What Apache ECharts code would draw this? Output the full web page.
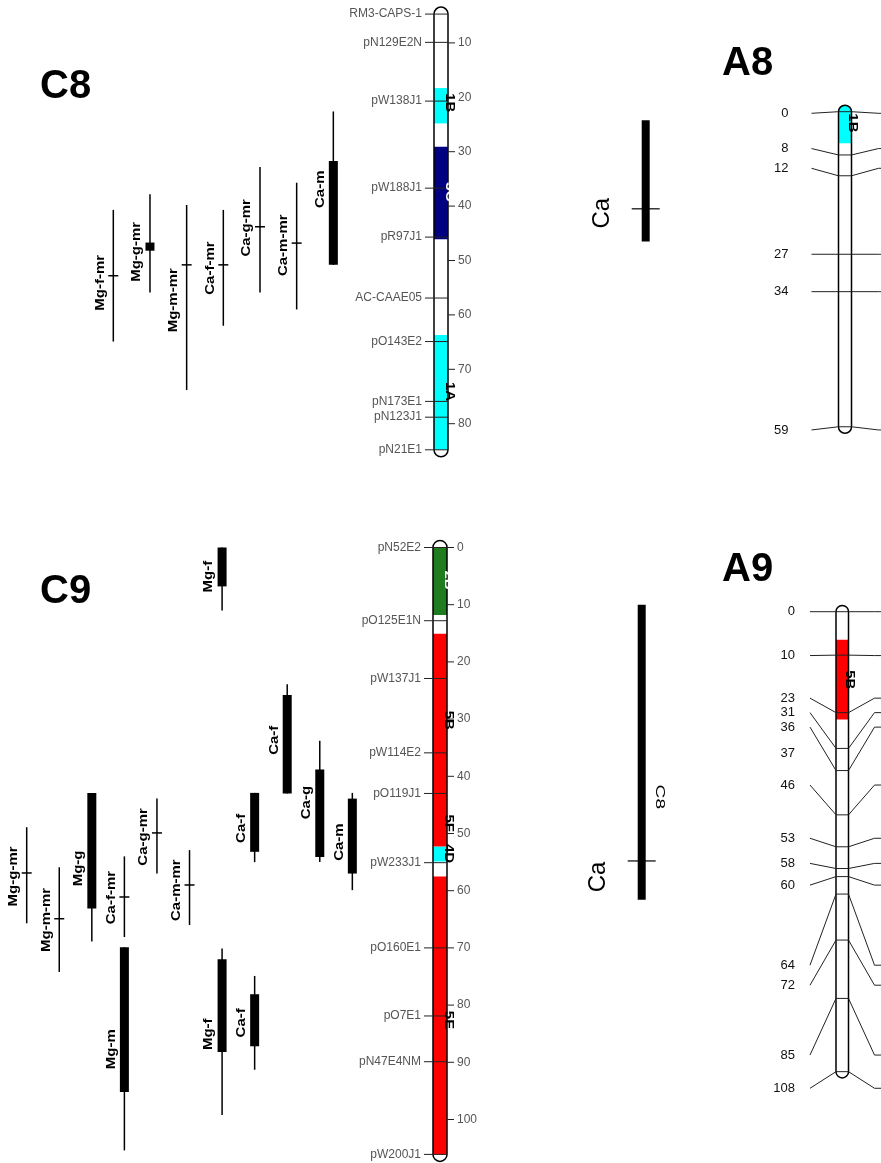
<!DOCTYPE html>
<html><head><meta charset="utf-8">
<script src="https://cdn.jsdelivr.net/npm/echarts@6/dist/echarts.min.js"></script>
<style>html,body{margin:0;padding:0;background:#fff}#c{width:881px;height:1163px}</style>
</head><body><div id="c"></div>
<script>
// ================= DATA (cM values) =================
// --- linkage group C8 ---
const c8MarkerNames = ['RM3-CAPS-1','pN129E2N','pW138J1','pW188J1','pR97J1','AC-CAAE05','pO143E2','pN173E1','pN123J1','pN21E1'];
const c8MarkerPos   = [4.7, 9.9, 20.7, 36.7, 45.7, 56.9, 64.9, 75.9, 78.8, 84.8];
const c8Ticks       = [10, 20, 30, 40, 50, 60, 70, 80];
const c8BlockNames  = ['1B', '3C', '1A'];
const c8BlockStart  = [18.3, 29.1, 63.7];
const c8BlockEnd    = [24.8, 46.1, 84.8];
const c8BlockLabelPos = [21.0, 37.4, 74.1];

const c8QtlNames    = ['Mg-f-mr','Mg-g-mr','Mg-m-mr','Ca-f-mr','Ca-g-mr','Ca-m-mr','Ca-m'];
const c8QtlColumn   = [0, 1, 2, 3, 4, 5, 6];
const c8QtlLow      = [40.7, 37.8, 39.8, 40.7, 32.8, 35.7, 22.6];
const c8QtlHigh     = [64.9, 55.9, 73.8, 62.0, 55.9, 59.0, 50.8];
const c8QtlCoreLow  = [null, 46.7, null, null, null, null, 31.7];
const c8QtlCoreHigh = [null, 48.2, null, null, null, null, 50.8];
const c8QtlPeak     = [52.8, null, 50.8, 50.8, 43.8, 46.8, null];
const c8QtlLabelPos = [54.1, 48.4, 57.3, 51.4, 44.0, 47.2, 36.9];

// --- linkage group C9 ---
const c9MarkerNames = ['pN52E2','pO125E1N','pW137J1','pW114E2','pO119J1','pW233J1','pO160E1','pO7E1','pN47E4NM','pW200J1'];
const c9MarkerPos   = [0, 12.8, 22.9, 35.9, 43.0, 55.1, 70.0, 81.9, 89.9, 106.1];
const c9Ticks       = [0, 10, 20, 30, 40, 50, 60, 70, 80, 90, 100];
const c9BlockNames  = ['2B', '5B', '5F', '4D', '5E'];
const c9BlockStart  = [0, 15.1, 43.0, 52.3, 57.5];
const c9BlockEnd    = [11.8, 43.0, 52.3, 54.9, 106.1];
const c9BlockLabelPos = [5.7, 30.2, 48.2, 53.5, 82.6];

const c9QtlNames    = ['Mg-g-mr','Mg-m-mr','Mg-g','Ca-f-mr','Mg-m','Ca-g-mr','Ca-m-mr','Mg-f','Mg-f','Ca-f','Ca-f','Ca-f','Ca-g','Ca-m'];
const c9QtlColumn   = [0, 1, 2, 3, 3, 4, 5, 6, 6, 7, 7, 8, 9, 10];
const c9QtlLow      = [48.9, 55.9, 42.9, 54.0, 69.9, 43.9, 52.9, 0, 70.1, 42.9, 74.9, 23.9, 33.8, 42.9];
const c9QtlHigh     = [65.7, 74.2, 68.9, 68.1, 105.4, 57.0, 66.0, 11.0, 99.2, 55.0, 91.3, 43.0, 55.0, 59.9];
const c9QtlCoreLow  = [null, null, 42.9, null, 69.9, null, null, 0, 72.0, 42.9, 78.1, 25.8, 38.8, 43.9];
const c9QtlCoreHigh = [null, null, 63.1, null, 95.2, null, null, 6.8, 88.2, 53.2, 87.2, 43.0, 54.1, 57.0];
const c9QtlPeak     = [56.9, 64.9, null, 61.1, null, 49.9, 59.0, null, null, null, null, null, null, null];
const c9QtlLabelPos = [57.5, 65.1, 56.1, 61.2, 87.7, 50.6, 59.9, 5.1, 85.1, 49.1, 83.1, 33.7, 44.6, 51.5];

// --- Ca intervals in the middle column ---
const midTopLow = [24.2], midTopHigh = [46.5], midTopPeak = [40.5], midTopLabel = ['Ca'], midTopLabelPos = [41.3];
const midBotLow = [10.0], midBotHigh = [61.6], midBotPeak = [54.8], midBotLabel = ['Ca'], midBotLabelPos = [57.6];
const midBotNote = ['C8'], midBotNotePos = [43.6];

// --- A8 ---
const a8Labels    = ['0', '8', '12', '27', '34', '59'];
const a8LabelPos  = [0.3, 6.9, 10.6, 26.7, 33.7, 59.6];
const a8ChromPos  = [0, 8.1, 12.0, 26.7, 33.7, 59.0];
const a8BlockNames = ['1B'], a8BlockStart = [-1.2], a8BlockEnd = [5.9], a8BlockLabelPos = [2.1];

// --- A9 ---
const a9Labels    = ['0','10','23','31','36','37','46','53','58','60','64','72','85','108'];
const a9LabelPos  = [0, 10.3, 20.3, 23.7, 27.1, 33.2, 40.7, 53.2, 59.1, 64.2, 83.0, 87.7, 104.1, 111.9];
const a9ChromPos  = [0, 10.2, 23.7, 32.1, 37.3, null, 47.7, 55.2, 60.3, 62.2, 66.3, 77.1, 90.8, 108];
const a9BlockNames = ['5B'], a9BlockStart = [6.6], a9BlockEnd = [25.3], a9BlockLabelPos = [16.0];

const titles = ['C8', 'A8', 'C9', 'A9'];

// ================= STYLE =================
const FONT = '"Liberation Sans", Arial, Helvetica, sans-serif';
const BLOCK_COLORS = {'1B':'#00ffff','1A':'#00ffff','4D':'#00ffff','3C':'#000080','2B':'#1f7d1f','5B':'#ff0000','5F':'#ff0000','5E':'#ff0000'};
const BLOCK_TEXT = {'3C':'#ffffff','2B':'#ffffff'};

// ================= LAYOUT (grids in pixels) =================
const grids = [], xAxes = [], yAxes = [];
function addGrid(left, width, top, height, xmin, xmax, ymin, ymax, yExtra) {
  const i = grids.length;
  grids.push({left: left, top: top, width: width, height: height, containLabel: false, outerBoundsMode: 'none'});
  xAxes.push({type: 'value', gridIndex: i, min: xmin, max: xmax, show: false});
  yAxes.push(Object.assign({type: 'value', gridIndex: i, min: ymin, max: ymax, inverse: true, show: false}, yExtra || {}));
  return i;
}
function tickAxis(ticks) {
  return {
    show: true, position: 'right',
    axisLine: {show: false},
    axisTick: {show: false},
    axisLabel: {show: true, customValues: ticks, margin: 10, color: '#555', fontSize: 12, fontFamily: FONT},
    splitLine: {show: false}
  };
}
// C8 scale: 5.44 px / cM ; C9 : 5.72 px/cM ; A8 : 5.34 ; A9 : 4.259
const C8 = {top: 4.82, height: 462.4, min: 3, max: 88};
const C9 = {top: 530.34, height: 632.06, min: -3, max: 107.5};
const A8 = {top: 95.68, height: 347.1, min: -3, max: 62};
const A9 = {top: 598.92, height: 498.3, min: -3, max: 114};

const gC8q = addGrid(94.97, 256.7, C8.top, C8.height, -0.5, 6.5, C8.min, C8.max);
const gC8c = addGrid(434, 14, C8.top, C8.height, 0, 1, C8.min, C8.max, tickAxis(c8Ticks));
const gC9q = addGrid(10.42, 358.2, C9.top, C9.height, -0.5, 10.5, C9.min, C9.max);
const gC9c = addGrid(433, 14, C9.top, C9.height, 0, 1, C9.min, C9.max, tickAxis(c9Ticks));
const gMidT = addGrid(641.7, 8, C8.top, C8.height, 0, 1, C8.min, C8.max);
const gMidB = addGrid(637.7, 8, C9.top, C9.height, 0, 1, C9.min, C9.max);
const gA8 = addGrid(838.5, 13, A8.top, A8.height, 0, 1, A8.min, A8.max);
const gA9 = addGrid(836, 12.5, A9.top, A9.height, 0, 1, A9.min, A9.max);

// ================= SERIES BUILDERS =================
function base(g, z, data, renderItem) {
  return {type: 'custom', coordinateSystem: 'cartesian2d', xAxisIndex: g, yAxisIndex: g,
    clip: false, silent: true, z: z, data: data, renderItem: renderItem, animation: false};
}
function rotText(x, y, text, rot, size, weight, color, stretch) {
  return {type: 'text', x: x, y: y, rotation: rot, scaleX: stretch,
    style: {text: text, x: 0, y: 0, align: 'center', verticalAlign: 'middle', textAlign: 'center', textVerticalAlign: 'middle',
      fontSize: size, fontWeight: weight, fontFamily: FONT, fill: color}};
}

function qtlSeries(g, names, col, low, high, coreLow, coreHigh, peak, labelPos) {
  return base(g, 5, names.map((n, i) => [col[i], low[i], high[i]]), function (params, api) {
    const i = params.dataIndex;
    const c = col[i];
    const p0 = api.coord([c, low[i]]);
    const x = p0[0];
    const y1 = p0[1], y2 = api.coord([c, high[i]])[1];
    const ch = [{type: 'line', shape: {x1: x, y1: y1, x2: x, y2: y2}, style: {stroke: '#000', lineWidth: 1.5}}];
    if (coreLow[i] != null) {
      const a = api.coord([c, coreLow[i]])[1], b = api.coord([c, coreHigh[i]])[1];
      ch.push({type: 'rect', shape: {x: x - 4.5, y: a, width: 9, height: b - a}, style: {fill: '#000'}});
    }
    if (peak[i] != null) {
      const pk = api.coord([c, peak[i]])[1];
      ch.push({type: 'line', shape: {x1: x - 5, y1: pk, x2: x + 5, y2: pk}, style: {stroke: '#000', lineWidth: 1.5}});
    }
    const ly = api.coord([c, labelPos[i]])[1];
    ch.push(rotText(x - 13, ly, names[i], Math.PI / 2, 12, 'bold', '#000', 1.25));
    return {type: 'group', children: ch};
  });
}

function chromosomeSeries(g, first, last, blockNames, blockStart, blockEnd, blockLabelPos) {
  const out = [];
  function edges(api, v) { const a = api.coord([0, v]), b = api.coord([1, v]); return {l: a[0], r: b[0], y: a[1]}; }
  out.push(base(g, 2, [[0.5, first, last]], function (params, api) {
    const e1 = edges(api, first), e2 = edges(api, last), w = e1.r - e1.l, rad = w / 2;
    return {type: 'rect', shape: {x: e1.l, y: e1.y - rad, width: w, height: e2.y - e1.y + 2 * rad, r: rad}, style: {fill: '#fff'}};
  }));
  out.push(base(g, 3, blockNames.map((n, i) => [0.5, blockStart[i], blockEnd[i]]), function (params, api) {
    const i = params.dataIndex;
    const e1 = edges(api, blockStart[i]), e2 = edges(api, blockEnd[i]), w = e1.r - e1.l;
    const rr = blockStart[i] < first ? [w / 2, w / 2, 0, 0] : 0;
    return {type: 'rect', shape: {x: e1.l, y: e1.y, width: w, height: e2.y - e1.y, r: rr}, style: {fill: BLOCK_COLORS[blockNames[i]]}};
  }));
  out.push(base(g, 4, [[0.5, first, last]], function (params, api) {
    const e1 = edges(api, first), e2 = edges(api, last), w = e1.r - e1.l, rad = w / 2;
    return {type: 'rect', shape: {x: e1.l, y: e1.y - rad, width: w, height: e2.y - e1.y + 2 * rad, r: rad}, style: {fill: 'none', stroke: '#000', lineWidth: 1.5}};
  }));
  out.push(base(g, 7, blockNames.map((n, i) => [0.5, blockLabelPos[i]]), function (params, api) {
    const i = params.dataIndex;
    const e = edges(api, blockLabelPos[i]);
    return rotText(e.r + 1, e.y, blockNames[i], -Math.PI / 2, 12, 'bold', BLOCK_TEXT[blockNames[i]] || '#000', 1.25);
  }));
  return out;
}

// scale ticks on the right of a C chromosome
function tickSeries(g, ticks) {
  return base(g, 6, ticks.map(t => [1, t]), function (params, api) {
    const p = api.coord([1, ticks[params.dataIndex]]);
    return {type: 'line', shape: {x1: p[0], y1: p[1], x2: p[0] + 7, y2: p[1]}, style: {stroke: '#222', lineWidth: 1}};
  });
}

function cMarkerSeries(g, names, pos) {
  return base(g, 6, names.map((n, i) => [0.5, pos[i]]), function (params, api) {
    const i = params.dataIndex;
    const a = api.coord([0, pos[i]]), b = api.coord([1, pos[i]]);
    return {type: 'group', children: [
      {type: 'line', shape: {x1: a[0] - 9, y1: a[1], x2: b[0], y2: a[1]}, style: {stroke: '#222', lineWidth: 1}},
      {type: 'text', style: {text: names[i], x: a[0] - 12, y: a[1], align: 'right', verticalAlign: 'middle', textAlign: 'right', textVerticalAlign: 'middle',
        fontSize: 12, fontFamily: FONT, fill: '#555'}}
    ]};
  });
}

function aMarkerSeries(g, labels, labelPos, chromPos, labelGap, slant) {
  return base(g, 6, labels.map((n, i) => [0.5, labelPos[i]]), function (params, api) {
    const i = params.dataIndex;
    const ly = api.coord([0, labelPos[i]])[1];
    const l = api.coord([0, labelPos[i]])[0], r = api.coord([1, labelPos[i]])[0];
    const ch = [{type: 'text', style: {text: labels[i], x: l - labelGap, y: ly, align: 'right', verticalAlign: 'middle', textAlign: 'right', textVerticalAlign: 'middle',
      fontSize: 13, fontFamily: FONT, fill: '#111'}}];
    if (chromPos[i] != null) {
      const cy = api.coord([0, chromPos[i]])[1];
      ch.push({type: 'polyline', shape: {points: [[l - slant, ly], [l, cy], [r, cy], [r + slant, ly], [r + 80, ly]]},
        style: {stroke: '#222', lineWidth: 1, fill: 'none'}});
    }
    return {type: 'group', children: ch};
  });
}

function midSeries(g, low, high, peak, label, labelPos, note, notePos) {
  return base(g, 5, low.map((v, i) => [0.5, low[i], high[i]]), function (params, api) {
    const i = params.dataIndex;
    const a = api.coord([0, low[i]]), b = api.coord([1, high[i]]);
    const x = (a[0] + b[0]) / 2;
    const pk = api.coord([0.5, peak[i]])[1];
    const ch = [
      {type: 'rect', shape: {x: a[0], y: a[1], width: b[0] - a[0], height: b[1] - a[1]}, style: {fill: '#000'}},
      {type: 'line', shape: {x1: x - 14, y1: pk, x2: x + 14, y2: pk}, style: {stroke: '#000', lineWidth: 1.2}},
      rotText(x - 43, api.coord([0.5, labelPos[i]])[1], label[i], Math.PI / 2, 24, 'normal', '#000', 1)
    ];
    if (note) ch.push(rotText(x + 18, api.coord([0.5, notePos[i]])[1], note[i], -Math.PI / 2, 12, 'normal', '#000', 1.6));
    return {type: 'group', children: ch};
  });
}

// ================= OPTION =================
const series = [].concat(
  qtlSeries(gC8q, c8QtlNames, c8QtlColumn, c8QtlLow, c8QtlHigh, c8QtlCoreLow, c8QtlCoreHigh, c8QtlPeak, c8QtlLabelPos),
  chromosomeSeries(gC8c, c8MarkerPos[0], c8MarkerPos[c8MarkerPos.length - 1], c8BlockNames, c8BlockStart, c8BlockEnd, c8BlockLabelPos),
  tickSeries(gC8c, c8Ticks),
  cMarkerSeries(gC8c, c8MarkerNames, c8MarkerPos),
  qtlSeries(gC9q, c9QtlNames, c9QtlColumn, c9QtlLow, c9QtlHigh, c9QtlCoreLow, c9QtlCoreHigh, c9QtlPeak, c9QtlLabelPos),
  chromosomeSeries(gC9c, c9MarkerPos[0], c9MarkerPos[c9MarkerPos.length - 1], c9BlockNames, c9BlockStart, c9BlockEnd, c9BlockLabelPos),
  tickSeries(gC9c, c9Ticks),
  cMarkerSeries(gC9c, c9MarkerNames, c9MarkerPos),
  midSeries(gMidT, midTopLow, midTopHigh, midTopPeak, midTopLabel, midTopLabelPos),
  midSeries(gMidB, midBotLow, midBotHigh, midBotPeak, midBotLabel, midBotLabelPos, midBotNote, midBotNotePos),
  chromosomeSeries(gA8, a8ChromPos[0], a8ChromPos[a8ChromPos.length - 1], a8BlockNames, a8BlockStart, a8BlockEnd, a8BlockLabelPos),
  aMarkerSeries(gA8, a8Labels, a8LabelPos, a8ChromPos, 50, 27),
  chromosomeSeries(gA9, a9ChromPos[0], a9ChromPos[a9ChromPos.length - 1], a9BlockNames, a9BlockStart, a9BlockEnd, a9BlockLabelPos),
  aMarkerSeries(gA9, a9Labels, a9LabelPos, a9ChromPos, 41, 26)
);

const titlePos = [[40, 67], [722, 44], [40, 572], [722, 550]];
const option = {
  animation: false,
  backgroundColor: '#fff',
  title: titles.map((t, i) => ({text: t, left: titlePos[i][0], top: titlePos[i][1], padding: 0,
    textStyle: {fontSize: 40, fontWeight: 'bold', fontFamily: FONT, color: '#000'}})),
  grid: grids, xAxis: xAxes, yAxis: yAxes, series: series
};
const chart = echarts.init(document.getElementById('c'));
chart.setOption(option);
</script></body></html>
